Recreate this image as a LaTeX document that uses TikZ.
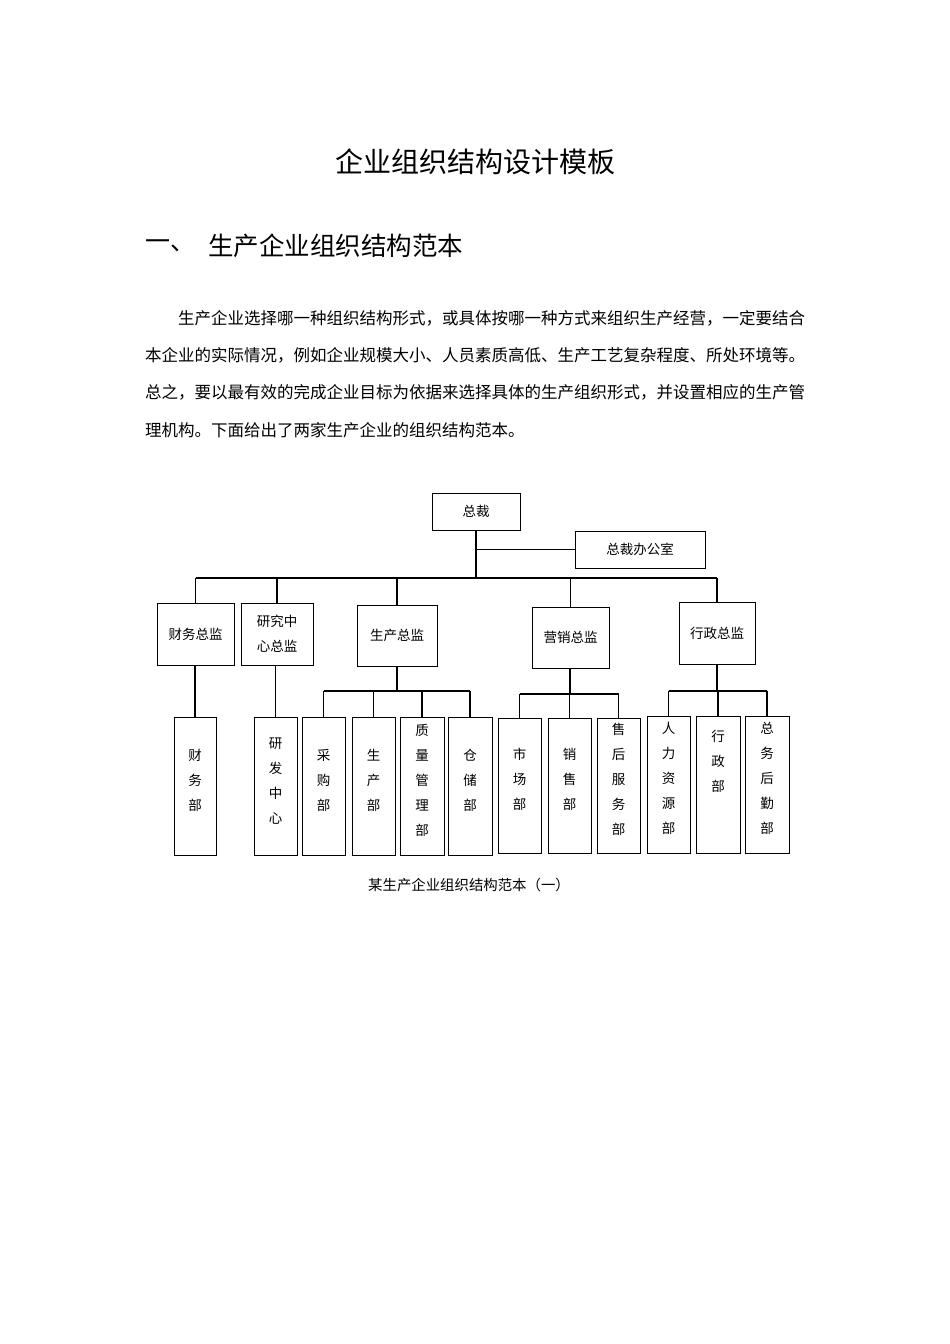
\documentclass[tikz,border=0pt]{standalone}
\usepackage{fontspec}
\setmainfont{Noto Sans CJK SC}
\usetikzlibrary{fit}
\begin{document}
\begin{tikzpicture}[x=1pt,y=-1pt,
  box/.style={draw=black,line width=1pt,inner sep=0pt,align=center,font=\fontsize{13.5}{25}\selectfont},
  ln/.style={draw=black,line width=1.2pt},
  para/.style={anchor=west,inner sep=0pt,font=\fontsize{16.5}{18}\selectfont}]
\useasboundingbox (0,0) rectangle (950,1344);
\node[inner sep=0pt,font=\fontsize{28}{30}\selectfont] (title) at (475,162) {企业组织结构设计模板};
\node[inner sep=0pt,anchor=west,font=\fontsize{25}{27}\selectfont] (h1) at (145,246) {一、};
\node[inner sep=0pt,anchor=west,font=\fontsize{25.5}{27}\selectfont] (h2) at (208,246) {生产企业组织结构范本};
\node[para] (p1) at (178,318) {生产企业选择哪一种组织结构形式，或具体按哪一种方式来组织生产经营，一定要结合};
\node[para] (p2) at (145,355) {本企业的实际情况，例如企业规模大小、人员素质高低、生产工艺复杂程度、所处环境等。};
\node[para] (p3) at (145,392) {总之，要以最有效的完成企业目标为依据来选择具体的生产组织形式，并设置相应的生产管};
\node[para] (p4) at (145,430) {理机构。下面给出了两家生产企业的组织结构范本。};

\node[box,fit={(432,493)(520,530)}] (zc) {};
\node[font=\fontsize{13.5}{16}\selectfont] at (zc.center) {总裁};
\node[box,fit={(575,531)(705,568)}] (zb) {};
\node[font=\fontsize{13.5}{16}\selectfont] at (zb.center) {总裁办公室};
\coordinate (bus) at (476,578);
\draw[ln] (zc.south) -- (bus);
\draw[ln] (zc.south |- zb.west) -- (zb.west);

\node[box,fit={(157,603)(234,665)}] (cw) {};
\node[font=\fontsize{13.5}{16}\selectfont] at (cw.center) {财务总监};
\node[box,fit={(241,603)(313,665)}] (yj) {};
\node[font=\fontsize{13.5}{25}\selectfont,align=center] at (yj.center) {研究中\\心总监};
\node[box,fit={(357,605)(437,666)}] (sc) {};
\node[font=\fontsize{13.5}{16}\selectfont] at (sc.center) {生产总监};
\node[box,fit={(532,607)(609,668)}] (yx) {};
\node[font=\fontsize{13.5}{16}\selectfont] at (yx.center) {营销总监};
\node[box,fit={(679,602)(755,664)}] (xz) {};
\node[font=\fontsize{13.5}{16}\selectfont] at (xz.center) {行政总监};
\draw[ln] (cw.north |- bus) -- (xz.north |- bus);
\foreach \n in {cw,yj,sc,yx,xz} \draw[ln] (\n.north |- bus) -- (\n.north);

% level 3
\node[box,fit={(174,717)(216,855)}] (cwb) {财\\务\\部};
\node[box,fit={(254,717)(297,855)}] (yfzx) {研\\发\\中\\心};
\node[box,fit={(302,717)(345,855)}] (cg) {采\\购\\部};
\node[box,fit={(352,717)(395,855)}] (scb) {生\\产\\部};
\node[box,fit={(400,717)(444,855)}] (zl) {质\\量\\管\\理\\部};
\node[box,fit={(448,717)(492,855)}] (cc) {仓\\储\\部};
\node[box,fit={(498,718)(541,853)}] (scc) {市\\场\\部};
\node[box,fit={(548,718)(591,853)}] (xs) {销\\售\\部};
\node[box,fit={(597,718)(640,853)}] (sh) {售\\后\\服\\务\\部};
\node[box,fit={(647,716)(690,853)}] (rl) {人\\力\\资\\源\\部};
\node[box,fit={(696,716)(740,853)}] (xzb) {};
\node[anchor=north,inner sep=0pt,align=center,font=\fontsize{13.5}{25}\selectfont] at (718,730) {行\\政\\部};
\node[box,fit={(745,716)(789,853)}] (zw) {总\\务\\后\\勤\\部};

\draw[ln] (cw.south -| cwb.north) -- (cwb.north);
\draw[ln] (yj.south -| yfzx.north) -- (yfzx.north);

\coordinate (b1) at (397,691);
\draw[ln] (sc.south -| b1) -- (b1);
\draw[ln] (cg.north |- b1) -- (cc.north |- b1);
\foreach \n in {cg,scb,zl,cc} \draw[ln] (\n.north |- b1) -- (\n.north);

\coordinate (b2) at (570,694);
\draw[ln] (yx.south -| b2) -- (b2);
\draw[ln] (scc.north |- b2) -- (sh.north |- b2);
\foreach \n in {scc,xs,sh} \draw[ln] (\n.north |- b2) -- (\n.north);

\coordinate (b3) at (722,691);
\draw[ln] (xz.south) -- (xz.south |- b3);
\draw[ln] (rl.north |- b3) -- (zw.north |- b3);
\foreach \n in {rl,xzb,zw} \draw[ln] (\n.north |- b3) -- (\n.north);

\node[inner sep=0pt,font=\fontsize{14.4}{16}\selectfont] (cap) at (469,885) {某生产企业组织结构范本（一）};
\end{tikzpicture}
\end{document}
